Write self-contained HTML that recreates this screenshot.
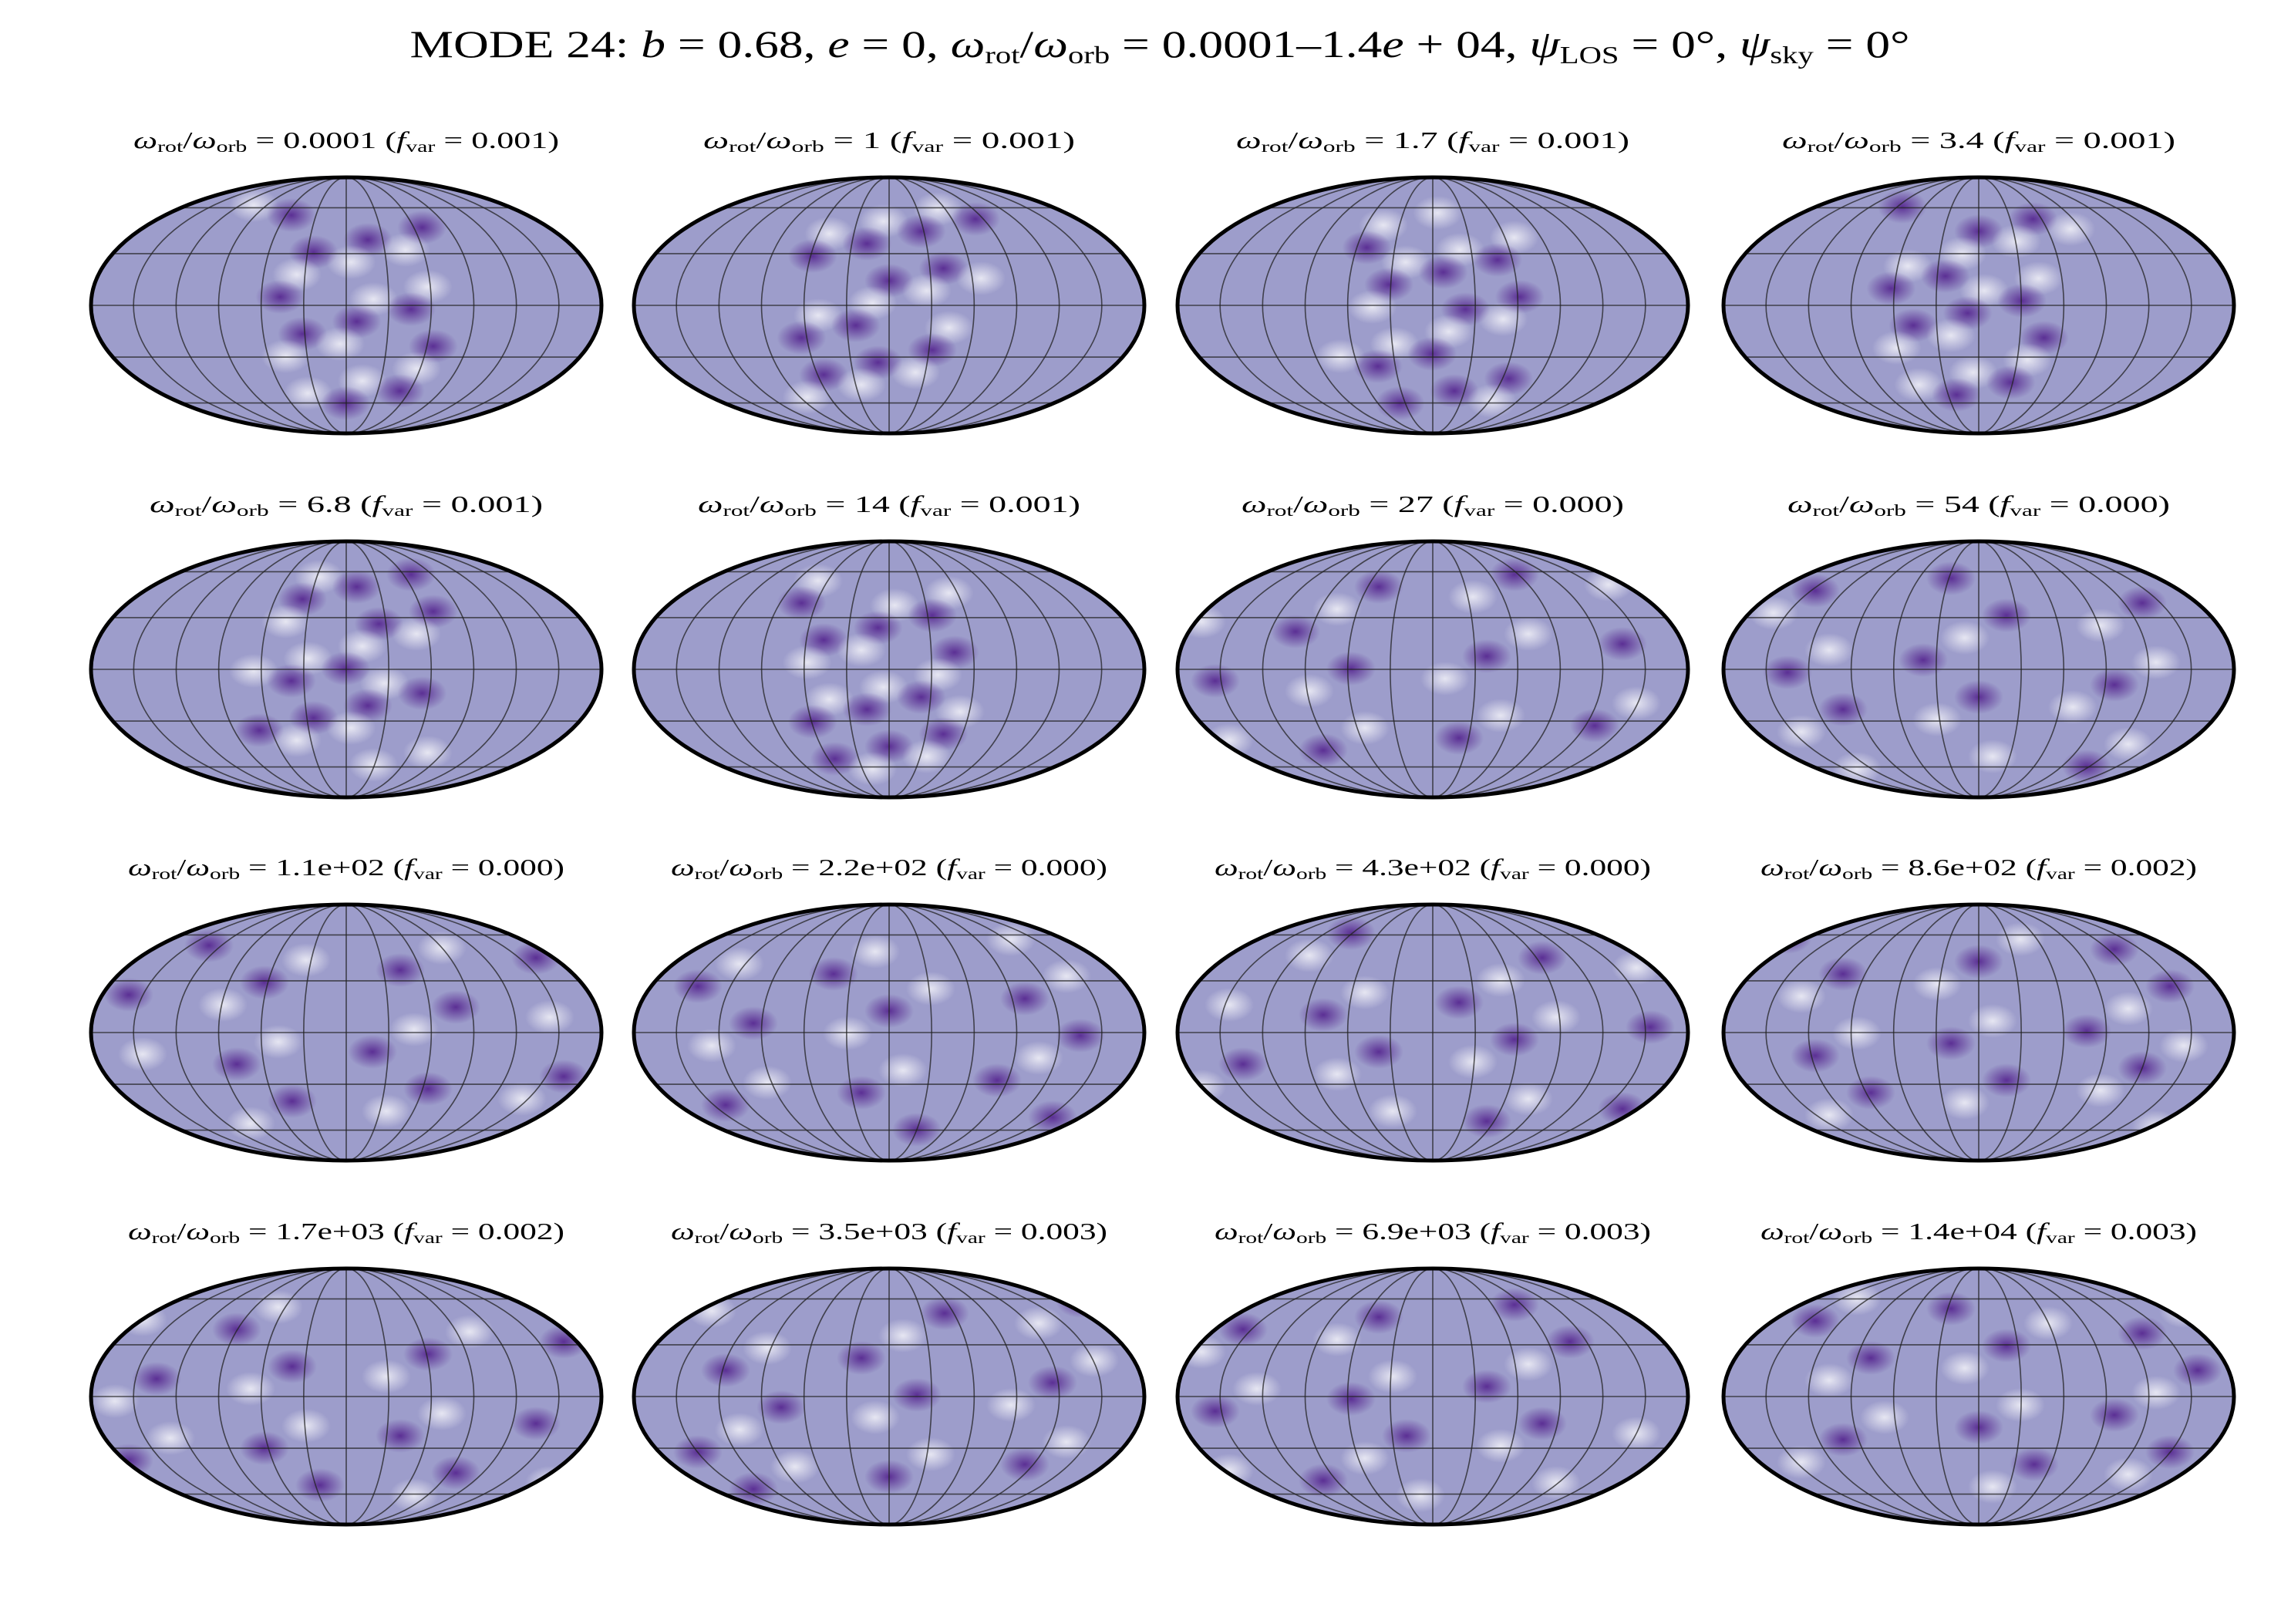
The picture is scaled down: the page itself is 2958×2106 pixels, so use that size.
<!DOCTYPE html>
<html><head><meta charset="utf-8"><style>
html,body{margin:0;padding:0;background:#fff}
svg{display:block}
text{font-family:"Liberation Serif",serif;fill:#000}
</style></head><body>
<svg id="fig" width="2958" height="2106" viewBox="0 0 2958 2106" xmlns="http://www.w3.org/2000/svg">
<defs>
<radialGradient id="blob" cx="50%" cy="50%" r="50%">
<stop offset="0" stop-color="#3f007d" stop-opacity="0.7"/>
<stop offset="1" stop-color="#3f007d" stop-opacity="0"/>
</radialGradient>
<radialGradient id="lite" cx="50%" cy="50%" r="50%">
<stop offset="0" stop-color="#ffffff" stop-opacity="0.75"/>
<stop offset="1" stop-color="#ffffff" stop-opacity="0"/>
</radialGradient>
</defs>
<text x="1504" y="74" text-anchor="middle" font-size="50" textLength="1945" lengthAdjust="spacingAndGlyphs">MODE 24: <tspan font-style="italic">b</tspan> = 0.68, <tspan font-style="italic">e</tspan> = 0, <tspan font-style="italic">ω</tspan><tspan font-size="32" dy="8">rot</tspan><tspan dy="-8">/</tspan><tspan font-style="italic">ω</tspan><tspan font-size="32" dy="8">orb</tspan><tspan dy="-8"> = 0.0001–1.4</tspan><tspan font-style="italic">e</tspan> + 04, <tspan font-style="italic">ψ</tspan><tspan font-size="32" dy="8">LOS</tspan><tspan dy="-8"> = 0°, </tspan><tspan font-style="italic">ψ</tspan><tspan font-size="32" dy="8">sky</tspan><tspan dy="-8"> = 0°</tspan></text>
<g id="panels"></g>
</svg>
<script>
const ratioLabels = ["0.0001","1","1.7","3.4","6.8","14","27","54","1.1e+02","2.2e+02","4.3e+02","8.6e+02","1.7e+03","3.5e+03","6.9e+03","1.4e+04"];
const fvarValues = [0.001,0.001,0.001,0.001,0.001,0.001,0.000,0.000,0.000,0.000,0.000,0.002,0.002,0.003,0.003,0.003];
const colCenters = [449,1153,1858,2566];
const rowCenters = [396,868,1339,1811];
const meridians = [-150,-120,-90,-60,-30,0,30,60,90,120,150];
const parallels = [-60,-30,0,30,60];
const NS = "http://www.w3.org/2000/svg";
const A = 331, B = 166;
function mollTheta(phi){let t=phi;for(let i=0;i<50;i++){const f=2*t+Math.sin(2*t)-Math.PI*Math.sin(phi);t-=f/(2+2*Math.cos(2*t));}return t;}
function mk(tag,attrs){const e=document.createElementNS(NS,tag);for(const k in attrs)e.setAttribute(k,attrs[k]);return e;}
const root=document.getElementById('panels');
ratioLabels.forEach((lab,i)=>{
  const cx=colCenters[i%4], cy=rowCenters[Math.floor(i/4)];
  const g=mk('g',{});
  
  
  const tl = 524 + (lab.length-4)*14;
  const t=mk('text',{x:cx,y:cy-204,'text-anchor':'middle','font-size':'31',textLength:tl,lengthAdjust:'spacingAndGlyphs'});
  
  
  t.innerHTML='<tspan font-style="italic">ω</tspan><tspan font-size="21" dy="5">rot</tspan><tspan dy="-5">/</tspan><tspan font-style="italic">ω</tspan><tspan font-size="21" dy="5">orb</tspan><tspan dy="-5"> = '+lab+' (</tspan><tspan font-style="italic">f</tspan><tspan font-size="21" dy="5">var</tspan><tspan dy="-5"> = '+fvarValues[i].toFixed(3)+')</tspan>';
  g.appendChild(t);
  const cid='clip'+i;
  const cp=mk('clipPath',{id:cid});cp.appendChild(mk('ellipse',{cx:cx,cy:cy,rx:A,ry:B}));g.appendChild(cp);
  const bg=mk('ellipse',{cx:cx,cy:cy,rx:A,ry:B,fill:'#9d9dcb'});
  
  
  g.appendChild(bg);
  const tex=mk('g',{'clip-path':'url(#'+cid+')'});
  const k=i;
  for(let j=0;j<22;j++){
    const dx=((j*97+k*53)%300)-150, dy=((j*61+k*37)%260)-130;
    tex.appendChild(mk('ellipse',{cx:cx+dx*(k<6?0.8:2),cy:cy+dy,rx:32,ry:22,fill:(j%2?'url(#blob)':'url(#lite)')}));
  }
  g.appendChild(tex);
  const grid=mk('g',{stroke:'#222','stroke-width':'1.6',fill:'none','stroke-opacity':'0.75'});
  
  
  meridians.forEach(m=>{const rx=Math.abs(A*m/180);
    if(m===0)grid.appendChild(mk('line',{x1:cx,y1:cy-B,x2:cx,y2:cy+B}));
    else grid.appendChild(mk('path',{d:`M${cx},${cy-B} A${rx},${B} 0 0 ${m>0?1:0} ${cx},${cy+B}`}));});
  parallels.forEach(p=>{const th=mollTheta(p*Math.PI/180);const y=cy-B*Math.sin(th);const hw=A*Math.cos(th);
    grid.appendChild(mk('line',{x1:cx-hw,y1:y,x2:cx+hw,y2:y}));});
  g.appendChild(grid);
  const border=mk('ellipse',{cx:cx,cy:cy,rx:A,ry:B,fill:'none',stroke:'#000','stroke-width':'5'});
  
  
  g.appendChild(border);
  root.appendChild(g);
});
</script>
</body></html>
